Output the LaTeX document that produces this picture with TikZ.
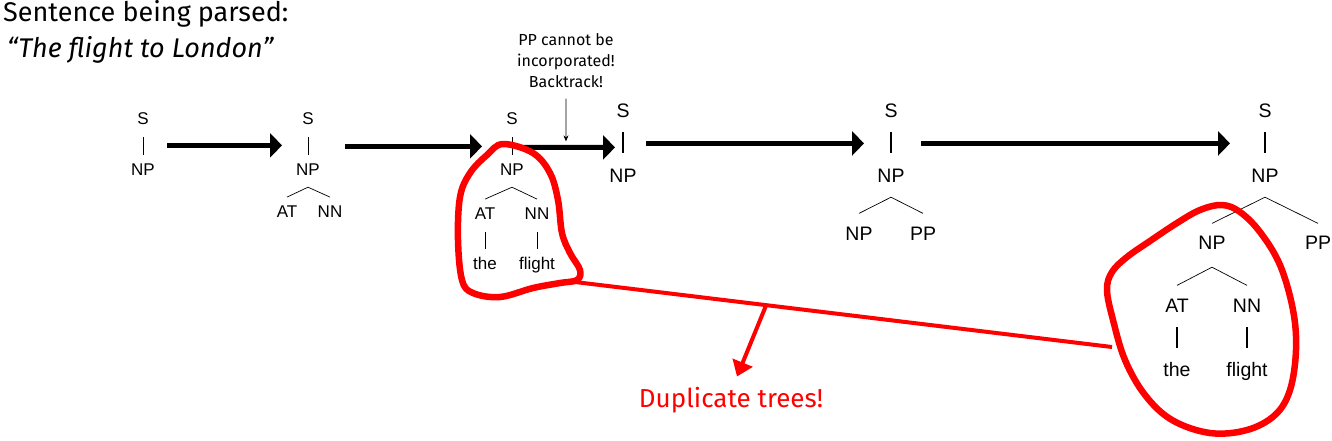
\documentclass[tikz,border=0pt]{standalone}
\usepackage{fontspec}
\setmainfont{Liberation Sans}
\newfontfamily\notefont{Fira Sans}
\usetikzlibrary{arrows.meta, positioning}
\tikzstyle{arrow} = [line width=5pt, -{Triangle[length=12pt, width=24pt]}]
\tikzstyle{edge} = [line width=0.7pt]
\tikzstyle{bigedge} = [line width=1.5pt]
\tikzstyle{circled} = [red, line width=6.5pt, line join=round]

\begin{document}
\begin{tikzpicture}[x=1pt, y=-1pt,
        cat/.style={font=\fontsize{17}{20}\selectfont, inner sep=0pt, anchor=base},
        bigcat/.style={font=\fontsize{19.5}{23}\selectfont, inner sep=0pt, anchor=base},
        title/.style={font=\notefont\fontsize{27}{32}\selectfont, inner sep=0pt, anchor=base west},
        note/.style={font=\notefont\fontsize{16}{21}\selectfont, inner sep=0pt, align=center}]
    \useasboundingbox (0,0) rectangle (1332,440);

    \node[title] (title) at (3,21) {Sentence being parsed:};
    \node[title, font=\notefont\itshape\fontsize{27}{32}\selectfont] (sentence) at (7,57) {“The flight to London”};

    % step 1
    \node[cat] (s1) at (143,124) {S};
    \node[cat] (np1) at (143,175) {NP};
    \draw[edge] ([yshift=-13pt]s1.south) -- ([yshift=8pt]np1.north);

    % step 2
    \node[cat] (s2) at (308,124) {S};
    \node[cat] (np2) at (308,175) {NP};
    \node[cat] (at2) at (287,217) {AT};
    \node[cat] (nn2) at (330,217) {NN};
    \draw[edge] ([yshift=-13pt]s2.south) -- ([yshift=8pt]np2.north);
    \draw[edge] ([yshift=8pt]at2.north) -- ([yshift=-12pt]np2.south) -- ([yshift=8pt]nn2.north);

    % step 3
    \node[cat] (s3) at (512,124) {S};
    \node[cat] (np3) at (512,175) {NP};
    \node[cat] (at3) at (485,219) {AT};
    \node[cat] (nn3) at (537,219) {NN};
    \node[cat] (the3) at (485,269) {the};
    \node[cat] (flight3) at (537,269) {flight};
    \draw[edge] ([yshift=-13pt]s3.south) -- ([yshift=8pt]np3.north);
    \draw[edge] ([yshift=8pt]at3.north) -- ([yshift=-12pt]np3.south) -- ([yshift=8pt]nn3.north);
    \draw[edge] ([yshift=-13pt]at3.south) -- ([yshift=7pt]the3.north);
    \draw[edge] ([yshift=-13pt]nn3.south) -- ([yshift=7pt]flight3.north);

    % step 4 (backtrack)
    \node[bigcat] (s4) at (623,117) {S};
    \node[bigcat] (np4) at (623,182) {NP};
    \draw[bigedge] ([yshift=-15pt]s4.south) -- ([yshift=15pt]np4.north);

    % step 5
    \node[bigcat] (s5) at (891,117) {S};
    \node[bigcat] (np5) at (891,182) {NP};
    \node[bigcat] (np5a) at (859,240) {NP};
    \node[bigcat] (pp5) at (923,240) {PP};
    \draw[bigedge] ([yshift=-15pt]s5.south) -- ([yshift=15pt]np5.north);
    \draw[edge] ([yshift=13pt]np5a.north) -- ([yshift=-15pt]np5.south) -- ([yshift=13pt]pp5.north);

    % step 6
    \node[bigcat] (s6) at (1265,117) {S};
    \node[bigcat] (np6) at (1265,182) {NP};
    \node[bigcat] (np6a) at (1212,249) {NP};
    \node[bigcat] (pp6) at (1318,249) {PP};
    \node[bigcat] (at6) at (1177,312) {AT};
    \node[bigcat] (nn6) at (1247,312) {NN};
    \node[bigcat] (the6) at (1177,376) {the};
    \node[bigcat] (flight6) at (1247,376) {flight};
    \draw[bigedge] ([yshift=-15pt]s6.south) -- ([yshift=15pt]np6.north);
    \draw[edge] ([yshift=12pt]np6a.north) -- ([yshift=-15pt]np6.south) -- ([yshift=12pt]pp6.north);
    \draw[edge] ([yshift=13pt]at6.north) -- ([yshift=-18pt]np6a.south) -- ([yshift=13pt]nn6.north);
    \draw[bigedge] ([yshift=-15pt]at6.south) -- ([yshift=14pt]the6.north);
    \draw[bigedge] ([yshift=-15pt]nn6.south) -- ([yshift=14pt]flight6.north);

    % steps
    \draw[arrow] ([xshift=24pt, yshift=-21pt]s1.south) -- ([xshift=-26pt, yshift=-21pt]s2.south);
    \draw[arrow] ([xshift=37pt, yshift=-22pt]s2.south) -- ([xshift=-30pt, yshift=-22pt]s3.south);
    \draw[arrow] ([xshift=11pt, yshift=-23pt]s3.south) -- coordinate[pos=0.467] (bt) ([xshift=-8pt, yshift=-30pt]s4.south);
    \draw[arrow] ([xshift=23pt, yshift=-26pt]s4.south) -- ([xshift=-27pt, yshift=-26pt]s5.south);
    \draw[arrow] ([xshift=30pt, yshift=-26pt]s5.south) -- ([xshift=-35pt, yshift=-26pt]s6.south);

    \node[note, anchor=north] (backtrack) at (566,33) {PP cannot be\\incorporated!\\Backtrack!};
    \draw[thick, -{Stealth[length=6pt, width=5pt]}] ([yshift=-11pt]backtrack.south) -- ([yshift=6pt]bt);

    % duplicates
    \draw[circled] plot[smooth cycle, tension=0.6] coordinates {(503,144) (533,153) (550,173) (558,200) (562,233) (570,253) (580,270) (577,280) (560,283) (533,288) (500,297) (473,293) (462,280) (458,240) (460,197) (470,173) (487,155)};
    \draw[circled] plot[smooth cycle, tension=0.6] coordinates {(1222,205) (1240,212) (1260,232) (1280,265) (1293,310) (1296,350) (1290,390) (1275,415) (1247,430) (1210,433) (1172,420) (1145,395) (1125,360) (1113,320) (1107,290) (1112,272) (1127,257) (1150,241) (1177,223) (1200,210)};
    \coordinate (dupleft) at (575,282);
    \coordinate (dupright) at (1112,347);
    \node[font=\notefont\fontsize{26}{32}\selectfont, text=red, inner sep=0pt, anchor=base] (dup) at (731,407) {Duplicate trees!};
    \draw[red, line width=4pt] (dupleft) -- coordinate[pos=0.356] (mid) (dupright);
    \draw[red, line width=4pt, -{Triangle[length=15pt, width=21pt]}] (mid) -- ([xshift=6pt, yshift=10pt]dup.north);
\end{tikzpicture}
\end{document}
